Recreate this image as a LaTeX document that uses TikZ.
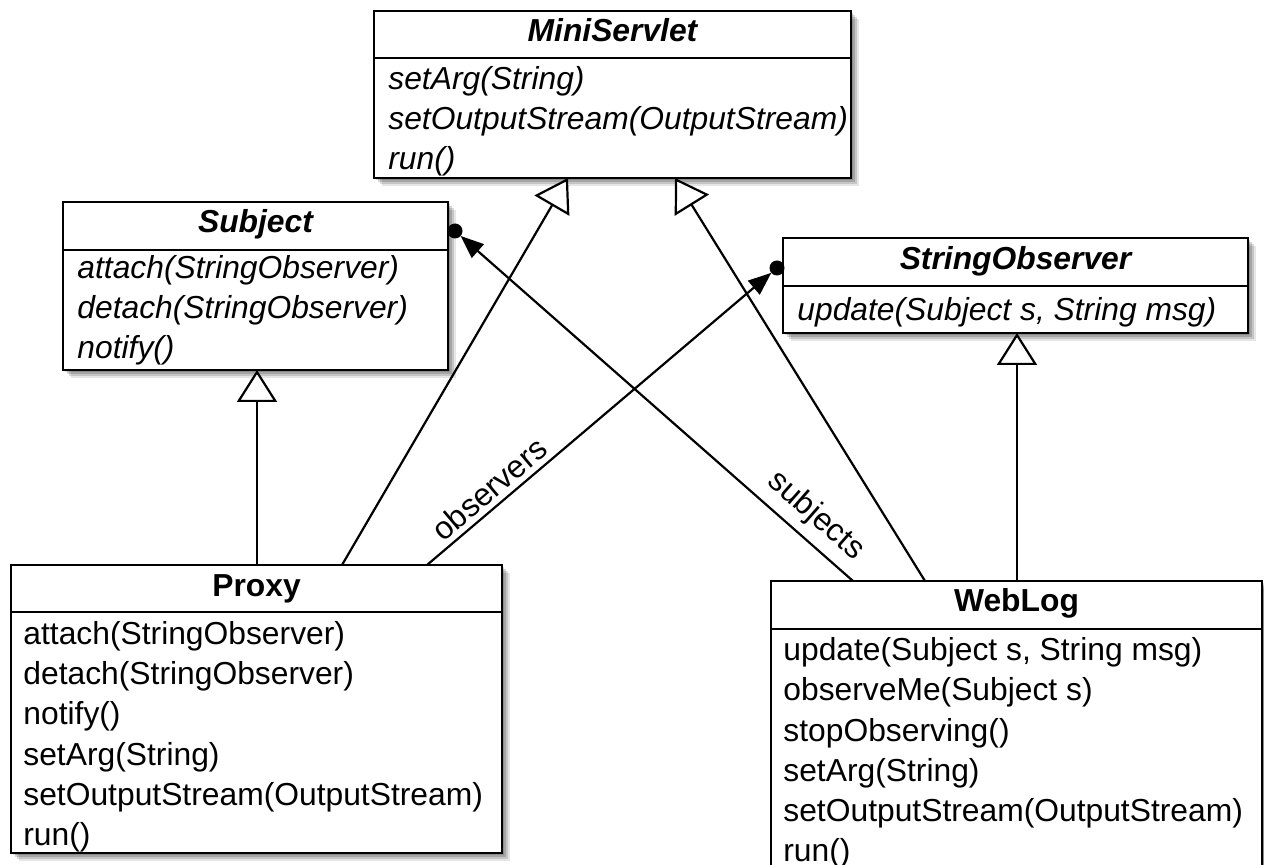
\documentclass[tikz,border=0pt]{standalone}
\usepackage{fontspec}
\setmainfont{Liberation Sans}
\usetikzlibrary{arrows.meta,shadows}
\begin{document}
\begin{tikzpicture}[x=0.5pt,y=-0.5pt,
  every node/.style={font=\fontsize{15.9}{20}\selectfont},
  umlbox/.style={draw, line width=1.35pt, fill=white, rectangle, inner sep=0pt, outer sep=0pt, anchor=north west,
    drop shadow={shadow xshift=1.0pt,shadow yshift=-1.0pt,opacity=.16,fill=black},
    drop shadow={shadow xshift=2.0pt,shadow yshift=-2.0pt,opacity=.16,fill=black},
    drop shadow={shadow xshift=3.0pt,shadow yshift=-3.0pt,opacity=.14,fill=black},
    drop shadow={shadow xshift=3.8pt,shadow yshift=-3.8pt,opacity=.10,fill=black}},
  sepline/.style={line width=1.35pt},
  cname/.style={inner sep=0pt, anchor=base, font=\fontsize{15.9}{20}\selectfont\bfseries},
  aname/.style={inner sep=0pt, anchor=base, font=\fontsize{15.9}{20}\selectfont\bfseries\itshape},
  meth/.style={inner sep=0pt, anchor=base west},
  ameth/.style={inner sep=0pt, anchor=base west, font=\fontsize{15.9}{20}\selectfont\itshape},
  gen/.style={draw, line width=1.1pt, -{Triangle[length=16pt,width=20pt,fill=white]}},
  assoc/.style={draw, line width=1.1pt, -{Triangle[length=11.5pt,width=9pt]}},
  enddot/.style={circle, fill=black, inner sep=0pt, outer sep=0pt, minimum size=7.5pt},
  role/.style={inner sep=0pt}
]
\useasboundingbox (0,0) rectangle (1264,865);

% MiniServlet
\node[umlbox, minimum width=238.5pt, minimum height=83.5pt] (mini) at (374,11) {};
\draw[sepline] (374,58) -- (851,58);
\node[aname] (mini-t) at (612.5,42) {MiniServlet};
\foreach \t [count=\i] in {setArg(String), setOutputStream(OutputStream), run()}
  \node[ameth] (mini-m\i) at (388,{50+40*\i}) {\t};

% Subject
\node[umlbox, minimum width=192.5pt, minimum height=84pt] (subject) at (63,202) {};
\draw[sepline] (63,250) -- (448,250);
\node[aname] (subject-t) at (255.5,233) {Subject};
\foreach \t [count=\i] in {attach(StringObserver), detach(StringObserver), notify()}
  \node[ameth] (subject-m\i) at (77,{239+40*\i}) {\t};

% StringObserver
\node[umlbox, minimum width=232.5pt, minimum height=47.5pt] (strobs) at (783,238) {};
\draw[sepline] (783,286) -- (1248,286);
\node[aname] (strobs-t) at (1015.5,270) {StringObserver};
\node[ameth] (strobs-m1) at (797,321) {update(Subject s, String msg)};

% Proxy
\node[umlbox, minimum width=245.5pt, minimum height=144pt] (proxy) at (11,565) {};
\draw[sepline] (11,612) -- (502,612);
\node[cname] (proxy-t) at (256.5,597) {Proxy};
\foreach \t [count=\i] in {attach(StringObserver), detach(StringObserver), notify(), setArg(String), setOutputStream(OutputStream), run()}
  \node[meth] (proxy-m\i) at (23,{605+40*\i}) {\t};

% WebLog
\node[umlbox, minimum width=245.5pt, minimum height=160pt] (weblog) at (771,581) {};
\draw[sepline] (771,629) -- (1262,629);
\node[cname] (weblog-t) at (1016.5,612) {WebLog};
\foreach \t [count=\i] in {{update(Subject s, String msg)}, observeMe(Subject s), stopObserving(), setArg(String), setOutputStream(OutputStream), run()}
  \node[meth] (weblog-m\i) at (783,{621+40*\i}) {\t};

% helper x positions
\coordinate (x257) at (257,0);
\coordinate (x342) at (342,0);
\coordinate (x568) at (568,0);
\coordinate (x675) at (675,0);
\coordinate (x925) at (925,0);
\coordinate (x1017) at (1017,0);
\coordinate (x427) at (427,0);
\coordinate (x853) at (853,0);

% generalizations
\draw[gen] (proxy.north -| x257) -- (subject.south -| x257);
\draw[gen] (proxy.north -| x342) -- (mini.south -| x568);
\draw[gen] (weblog.north -| x925) -- (mini.south -| x675);
\draw[gen] (weblog.north -| x1017) -- (strobs.south -| x1017);

% associations
\node[enddot] (odot) at (777,268) {};
\node[enddot] (sdot) at (455,231) {};
\draw[assoc] (proxy.north -| x427) -- (odot);
\draw[assoc] (weblog.north -| x853) -- (sdot);
\node[role, rotate=40.2] (lobs) at (489,489) {observers};
\node[role, rotate=-41.3] (lsub) at (816,516) {subjects};
\end{tikzpicture}
\end{document}
